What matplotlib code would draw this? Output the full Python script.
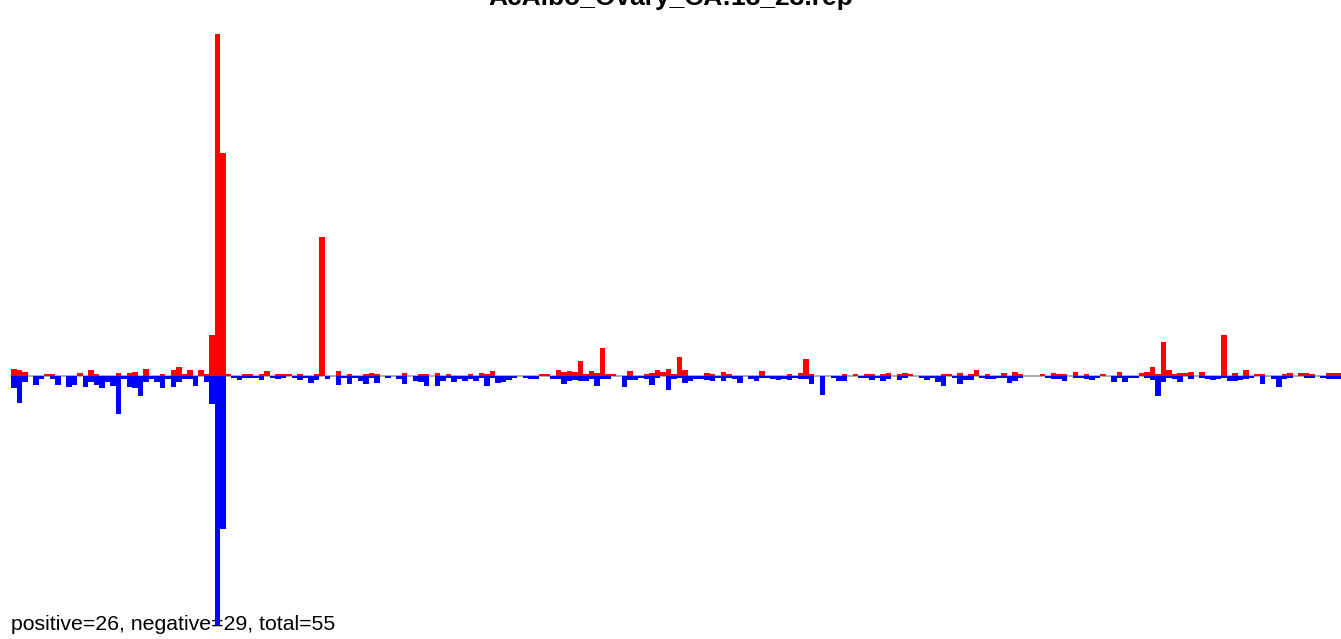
import matplotlib
matplotlib.use("Agg")
import matplotlib.pyplot as plt
import numpy as np

plt.rcParams["font.family"] = ["Liberation Sans", "DejaVu Sans"]

title = "AcAlbo_Ovary_CA:18_23.rep"
summary = "positive=26, negative=29, total=55"

# read counts per position bin (upper strand = positive, lower = negative)
positive = [
    7, 6, 4, 0, 0, 0, 2.3, 2.3, 0, 0, 0, 0, 3.3, 0, 6, 2.3, 0, 0, 0, 3.3,
    0, 3.3, 4, 0, 7, 0, 0, 2, 0, 6, 9, 2.3, 6, 0, 6, 2.3, 41, 342, 223, 2.3,
    0, 0, 2.3, 2.3, 0, 2.3, 5.3, 0, 2.3, 2.3, 2.3, 0, 2.3, 0, 0, 2.3, 139, 0, 0, 5,
    0, 2.3, 0, 0, 2.3, 3.3, 2.3, 0, 0, 0, 0, 3.3, 0, 0, 2.3, 2.3, 0, 3.3, 0,
    2.3, 0, 0, 0, 2.3, 0, 3.3, 2.3, 5, 0, 0, 0, 0, 0, 0, 0, 0, 2.3, 2.3, 0,
    6, 4, 5, 4, 15, 2.3, 5, 3.3, 28, 2.3, 2.3, 0, 0, 5, 0, 0, 2.3, 3.3, 6, 4, 7,
    2.3, 19, 6, 0, 0, 0, 3.3, 2.3, 0, 4, 2.3, 0, 0, 0, 0, 0, 5.3, 0, 0, 0,
    0, 2.3, 0, 3.3, 17, 2.3, 0, 0, 0, 0, 0, 2.3, 0, 2.3, 0, 2.3, 2.3, 0, 2.3, 3.3,
    0, 2.3, 3.3, 2.3, 0, 0, 0, 0, 0, 2.3, 2.3, 0, 3.3, 0, 2.3, 6, 0, 2.3, 0, 0,
    3.3, 0, 4, 2, 0, 0, 0, 2, 0, 3, 2, 2, 0, 4, 0, 2, 0, 0, 2, 0,
    0, 4, 0, 0, 0, 3, 4, 9, 2, 34, 6, 2, 3, 3, 4, 0, 4, 0, 0, 0,
    41, 0, 3, 0, 6, 0, 2, 2, 0, 0, 0, 2, 3, 0, 3, 3, 2, 0, 0, 3,
    3, 3,
]
negative = [
    11.7, 26.7, 6.3, 0, 8.7, 3.3, 0, 3.3, 8.7, 0, 10.7, 8.7, 0, 10.7, 6.3, 9, 11.7, 6.3, 9.7, 37.7,
    3.3, 10.7, 11.7, 19.7, 6.3, 3.3, 6.3, 11.7, 3.3, 10.7, 6.3, 3.3, 3.3, 9.7, 0, 5.7, 27.7, 249, 153, 0,
    2, 3.7, 2, 2, 2.3, 3.7, 0, 2, 2.7, 1.7, 0, 2, 3.7, 2, 6.7, 3.7, 0, 2.7, 0, 8.7,
    2, 7.7, 2, 4.7, 7.7, 2, 6.7, 0, 2, 0, 2.7, 7.7, 0, 4.7, 5.7, 9.7, 0, 9.7, 4.7,
    2, 5.7, 2.7, 4.7, 2.7, 4.7, 2, 9.7, 2, 6.7, 5.7, 3.7, 2, 0, 2, 2.7, 2.7, 0, 0, 2.7,
    2.7, 7.7, 4.7, 3.7, 4.7, 4.7, 2.7, 9.7, 2.7, 2.7, 0, 0, 10.7, 3.7, 3.7, 2, 2.7, 8.7, 2, 0, 13.7,
    2.7, 2, 6.7, 4.7, 2.7, 2.7, 3.7, 4.7, 2, 4.7, 2, 2.7, 6.7, 0, 2.7, 4.7, 2, 2, 2.7, 3.7,
    2.7, 3.7, 2, 2.7, 2.7, 7.7, 0, 18.7, 0, 2, 4.7, 4.7, 0, 0, 2, 2, 3.7, 2, 4.7, 2.7,
    0, 3.7, 2, 0, 0, 2, 3.7, 2, 5.7, 9.7, 0, 2, 7.7, 3.7, 3.7, 0, 2, 2.7, 2.7, 2,
    2, 6.7, 4.7, 2, 0, 0, 0, 0, 2, 2.7, 2.7, 4.7, 0, 2, 2, 2.7, 3.7, 2, 0, 0,
    5.7, 2, 5.7, 2, 2, 0, 2, 3.7, 19.7, 5.7, 2, 2.7, 5.7, 0, 2.7, 0, 2, 2.7, 3.7, 2.7,
    2, 4.7, 4.7, 3.7, 2.7, 2, 0, 7.7, 0, 2.7, 10.7, 2.7, 2, 0, 0, 2, 2, 0, 2, 2.7,
    2.7, 3,
]

pos = np.array(positive)
neg = np.array(negative)
x = np.arange(len(pos))

fig = plt.figure(figsize=(13.41, 6.39), dpi=100)
ax = fig.add_axes([0, 0, 1, 1])
ax.set_axis_off()

ax.plot([0, len(pos)], [0, 0], color="#a6a6a6", lw=1.3, zorder=1)
ax.bar(x, pos, width=1.0, align="edge", color="#ff0000", linewidth=0, zorder=3)
ax.bar(x, -neg, width=1.0, align="edge", color="#0000ff", linewidth=0, zorder=3)

ax.set_xlim(-2, 241.8)
ax.set_ylim(-263, 376)

# the title sits partly above the top edge, as in the original
ax.text(0.5, 1 - 5 / 639, title, transform=ax.transAxes, ha="center",
        va="baseline", fontsize=19, fontweight="bold", zorder=2)
ax.text(11 / 1341, 1 - 630 / 639, summary, transform=ax.transAxes, ha="left",
        va="baseline", fontsize=15.3, zorder=2)

fig.savefig("out.png", dpi=100)
